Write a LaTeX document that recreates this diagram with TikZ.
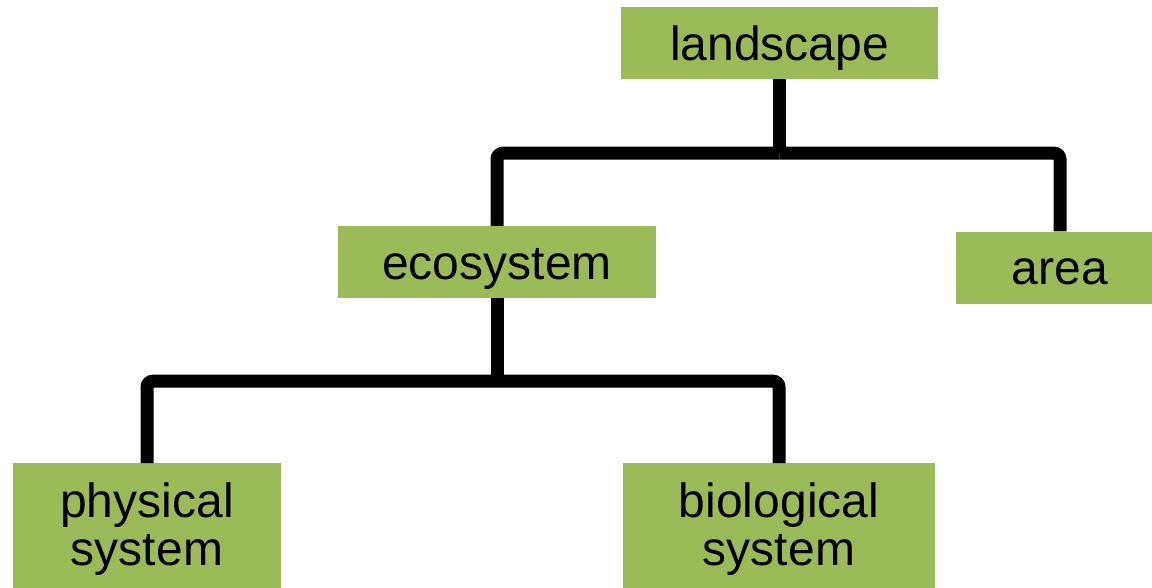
\documentclass[tikz,border=0pt]{standalone}
\usepackage{fontspec}
\setmainfont{Liberation Sans}
\definecolor{boxgreen}{RGB}{155,187,89}
\begin{document}
\begin{tikzpicture}[x=1pt,y=-1pt,
  box/.style={fill=boxgreen, draw=none, inner xsep=0pt,
    font=\fontsize{48}{48}\selectfont},
  onebox/.style={box, inner ysep=0pt, text height=53pt, text depth=19pt},
  twobox/.style={box, align=center, inner ysep=19.6pt, anchor=north},
  link/.style={line width=13pt, line cap=butt, rounded corners=6pt}]
\useasboundingbox (0,0) rectangle (1152,587);

% boxes
\node[onebox, minimum width=317pt] (land) at (779.5,43) {landscape};
\node[onebox, minimum width=318pt] (eco) at (497,262) {ecosystem};
\node[onebox, minimum width=208pt] (area) at (1060,267.5) {area};
\node[twobox, minimum width=268pt] (phys) at (147,463) {physical\\system};
\node[twobox, minimum width=312pt] (bio) at (779,463) {biological\\system};

% junctions of the tree
\coordinate (j1) at ([yshift=-74pt]land.south);
\coordinate (j2) at ([yshift=-83pt]eco.south);

% connectors
\draw[link] (land.south) -- (j1);
\draw[link] (j1) -| (eco.north);
\draw[link] (j1) -| (area.north);
\draw[link] (eco.south) -- (j2);
\draw[link] (j2) -| (phys.north);
\draw[link] (j2) -| (bio.north);
\end{tikzpicture}
\end{document}
